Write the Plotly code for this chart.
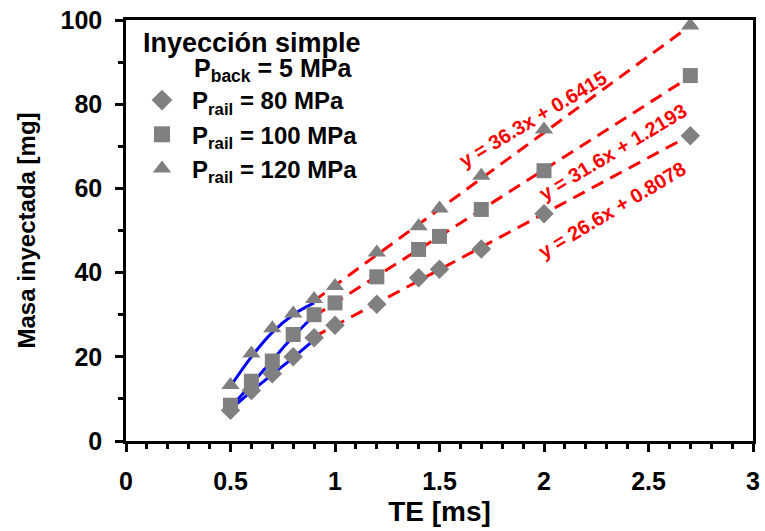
import plotly.graph_objects as go

te = [0.5, 0.6, 0.7, 0.8, 0.9, 1.0, 1.2, 1.4, 1.5, 1.7, 2.0, 2.7]
masa_80 = [7.3, 12.0, 16.0, 20.0, 24.5, 27.5, 32.5, 38.8, 40.8, 45.6, 54.0, 72.5]
masa_100 = [8.5, 14.2, 19.0, 25.3, 30.0, 32.8, 39.0, 45.5, 48.6, 55.0, 64.2, 86.8]
masa_120 = [13.3, 20.8, 26.8, 30.3, 33.7, 36.8, 44.8, 51.0, 55.2, 63.0, 74.0, 98.7]

# blue low-TE curves (TE 0.5-0.9)
curve_x = [0.5, 0.6, 0.7, 0.8, 0.9]
curve_80 = [7.5, 11.8, 15.8, 19.8, 24.0]
curve_100 = [8.0, 13.5, 19.2, 24.8, 29.8]
curve_120 = [13.0, 20.0, 25.8, 30.0, 32.8]

# linear fits (slope, intercept) and range of fitted lines
fit_slope = [26.6, 31.6, 36.3]
fit_icpt = [0.8078, 1.2193, 0.6415]
fit_range = [0.9, 2.7]
fit_labels = ["y = 26.6x + 0.8078", "y = 31.6x + 1.2193", "y = 36.3x + 0.6415"]
fit_label_pos = [(2.325, 54.9), (2.33, 68.6), (1.947, 76.5)]

series_names = ["<b>P<sub>rail</sub> = 80 MPa</b>", "<b>P<sub>rail</sub> = 100 MPa</b>",
                "<b>P<sub>rail</sub> = 120 MPa</b>"]
symbols = ["diamond", "square", "triangle-up"]
sizes = [15, 15, 16]
legend_sizes = [16, 16, 16]

FONT = "Liberation Sans"
fig = go.Figure()

for cy in [curve_80, curve_100, curve_120]:
    fig.add_trace(go.Scatter(x=curve_x, y=cy, mode="lines", line=dict(color="#0000FF", width=3, shape="spline"),
                             showlegend=False, hoverinfo="skip"))

for s, b in zip(fit_slope, fit_icpt):
    fig.add_trace(go.Scatter(x=fit_range, y=[s * v + b for v in fit_range], mode="lines",
                             line=dict(color="#FF0000", width=3, dash="13px,8px"),
                             showlegend=False, hoverinfo="skip"))

for ys, nm, sym, sz in zip([masa_80, masa_100, masa_120], series_names, symbols, sizes):
    fig.add_trace(go.Scatter(x=te, y=ys, mode="markers", name=nm, showlegend=False,
                             marker=dict(symbol=sym, size=sz, color="#808080", line=dict(width=0))))

# legend-only entries (larger legend symbols, as in the reference)
for nm, sym, sz in zip(series_names, symbols, legend_sizes):
    fig.add_trace(go.Scatter(x=[None], y=[None], mode="markers", name=nm,
                             marker=dict(symbol=sym, size=sz, color="#808080", line=dict(width=0))))

for lab, (lx, ly) in zip(fit_labels, fit_label_pos):
    fig.add_annotation(x=lx, y=ly, text="<b>" + lab + "</b>", showarrow=False, textangle=-31,
                       font=dict(family=FONT, size=20, color="#FF0000"))

fig.add_annotation(xref="paper", yref="paper", x=(141 - 126) / 627, y=(441 - 43) / 421, xanchor="left",
                   yanchor="middle", text="<b>Inyección simple</b>", showarrow=False,
                   font=dict(family=FONT, size=27, color="black"))
fig.add_annotation(xref="paper", yref="paper", x=(192 - 126) / 627, y=(441 - 70) / 421, xanchor="left",
                   yanchor="middle", text="<b>P<sub>back</sub> = 5 MPa</b>", showarrow=False,
                   font=dict(family=FONT, size=25, color="black"))

axis_common = dict(showline=True, linecolor="black", linewidth=2.5, mirror=True, ticks="outside",
                   tickwidth=2.5, ticklen=8, tickcolor="black", showgrid=False, zeroline=False,
                   automargin=False, ticklabelstandoff=8,
                   tickfont=dict(family=FONT, size=25, color="black", weight="bold"))

fig.update_xaxes(range=[0, 3], dtick=0.5, tick0=0,
                 title=dict(text="<b>TE [ms]</b>", font=dict(family=FONT, size=28, color="black"), standoff=8),
                 minor=dict(dtick=0.1, ticks="outside", ticklen=5, tickwidth=2.5, tickcolor="black"),
                 **axis_common)
fig.update_yaxes(range=[0, 100], dtick=20, tick0=0,
                 title=dict(text="<b>Masa inyectada [mg]</b>", font=dict(family=FONT, size=24, color="black"), standoff=19),
                 minor=dict(dtick=10, ticks="outside", ticklen=5, tickwidth=2.5, tickcolor="black"),
                 **axis_common)

fig.update_layout(
    width=765, height=531,
    margin=dict(l=126, r=12, t=20, b=90),
    plot_bgcolor="white", paper_bgcolor="white",
    font=dict(family=FONT, color="black"),
    legend=dict(x=(132 - 126) / 627, y=(441 - 78) / 421, xanchor="left", yanchor="top",
                bgcolor="rgba(0,0,0,0)", font=dict(family=FONT, size=24, color="black"),
                itemwidth=50, tracegroupgap=0),
)

fig.write_html("out.html", post_script="document.body.style.margin='0';",
               config={"displayModeBar": False})
